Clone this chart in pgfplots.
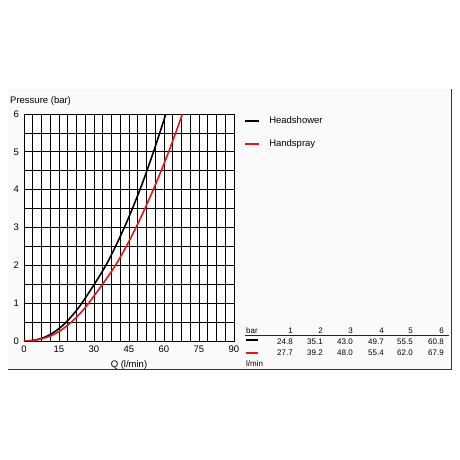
\documentclass[border=0pt]{standalone}
\usepackage{pgfplots}
\pgfplotsset{compat=1.18}
\usepackage{fontspec}
\setmainfont{Liberation Sans}
\definecolor{hsred}{RGB}{228,22,22}
\begin{document}
\begin{tikzpicture}[x=1pt,y=1pt]
\path[use as bounding box] (0,0) rectangle (460,460);
\fill[black!2] (8,90) rectangle (451,371);
\draw[black!80, line width=1pt] (451,371) -- (451,90) -- (8,90);
\node[anchor=west, inner sep=0pt, font=\fontsize{9.5}{11}\selectfont] at (10,359) {Pressure (bar)};
\begin{axis}[at={(24pt,119pt)}, anchor=south west, scale only axis,
  width=210pt, height=227pt,
  xmin=0, xmax=90, ymin=0, ymax=6,
  xtick={0,15,...,90}, ytick={0,1,...,6},
  minor x tick num=3, minor y tick num=1,
  grid=both,
  major grid style={black, line width=0.8pt},
  minor grid style={black, line width=0.8pt},
  axis line style={black, line width=0.8pt},
  axis background/.style={fill=white},
  major tick length=0pt, minor tick length=0pt,
  /pgf/number format/assume math mode=true,
  ticklabel style={font=\fontsize{9.5}{11}\selectfont},
  xticklabel style={inner sep=0pt, yshift=-5pt},
  yticklabel style={inner sep=0pt, xshift=-5pt},
  xlabel={Q (l/min)},
  xlabel style={font=\fontsize{9.5}{11}\selectfont, at={(axis description cs:0.5,0)}, anchor=north, inner sep=0pt, yshift=-19pt},
  legend style={draw=none, fill=none, at={(rel axis cs:1.05,0.998)}, anchor=north west,
    inner sep=0pt, row sep=11pt, font=\fontsize{9.5}{11}\selectfont,
    nodes={inner sep=2pt}},
  legend cell align=left,
  legend image code/.code={\draw[#1] (0pt,0pt) -- (14pt,0pt); \path (21pt,0pt);},
  clip=true,
]
\addplot[black, line width=1.6pt, smooth, tension=0.5] coordinates {
  (0,0) (3.75,0.015) (7.5,0.07) (11.25,0.17) (15,0.33) (18.75,0.54)
  (24.8,1) (35.1,2) (43.0,3) (49.7,4) (55.5,5) (60.8,6)};
\addlegendentry{Headshower}
\addplot[hsred, line width=1.6pt, smooth, tension=0.5] coordinates {
  (0,0) (3.75,0.012) (7.5,0.06) (11.25,0.13) (15,0.25) (18.75,0.42) (22.5,0.63)
  (27.7,1) (39.2,2) (48.0,3) (55.4,4) (62.0,5) (67.9,6)};
\addlegendentry{Handspray}
\end{axis}
% flow table
\begin{scope}[every node/.style={font=\fontsize{8}{9}\selectfont, inner sep=0pt}]
\node[anchor=west] at (246,129) {bar};
\draw[black!85, line width=1.3pt] (245,124.7) -- (449,124.7);
\draw[black, line width=1.8pt] (246,120) -- (258,120);
\draw[hsred, line width=1.8pt] (246,107) -- (258,107);
\node[anchor=west] at (246,96) {l/min};
\foreach \x/\h/\a/\b in {293/1/24.8/27.7, 323/2/35.1/39.2, 353/3/43.0/48.0, 384/4/49.7/55.4, 413/5/55.5/62.0, 444/6/60.8/67.9}{
  \node[anchor=east] at (\x,129) {\h};
  \node[anchor=east] at (\x,118) {\a};
  \node[anchor=east] at (\x,107) {\b};
}
\end{scope}
\end{tikzpicture}
\end{document}
